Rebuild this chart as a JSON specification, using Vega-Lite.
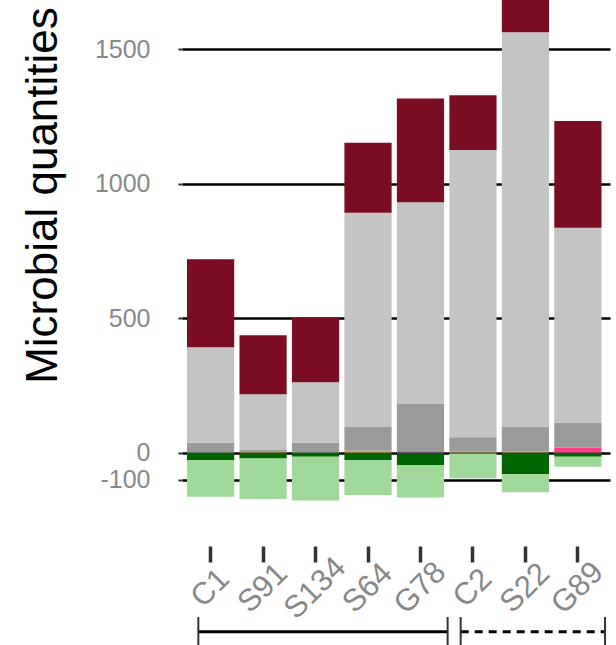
{
  "$schema": "https://vega.github.io/schema/vega-lite/v6.json",
  "autosize": {"type": "none"},
  "width": 428,
  "height": 546,
  "padding": {"left": 182, "top": 0, "right": 6, "bottom": 99},
  "config": {"font": "Liberation Sans", "view": {"stroke": null}, "axis": {"labelFont": "Liberation Sans"}},
  "resolve": {"axis": {"x": "independent", "y": "independent"}},
  "layer": [
    {
      "data": {"values": [
        {"sample": "C1", "taxon": "e", "order": 2, "value": 37},
        {"sample": "C1", "taxon": "f", "order": 3, "value": 355},
        {"sample": "C1", "taxon": "g", "order": 4, "value": 327},
        {"sample": "C1", "taxon": "h", "order": 1, "value": -27},
        {"sample": "C1", "taxon": "i", "order": 2, "value": -137},
        {"sample": "S91", "taxon": "b", "order": 1, "value": 5},
        {"sample": "S91", "taxon": "e", "order": 2, "value": 5},
        {"sample": "S91", "taxon": "f", "order": 3, "value": 207},
        {"sample": "S91", "taxon": "g", "order": 4, "value": 220},
        {"sample": "S91", "taxon": "h", "order": 1, "value": -22},
        {"sample": "S91", "taxon": "i", "order": 2, "value": -150},
        {"sample": "S134", "taxon": "e", "order": 2, "value": 37},
        {"sample": "S134", "taxon": "f", "order": 3, "value": 225},
        {"sample": "S134", "taxon": "g", "order": 4, "value": 240},
        {"sample": "S134", "taxon": "h", "order": 1, "value": -15},
        {"sample": "S134", "taxon": "i", "order": 2, "value": -163},
        {"sample": "S64", "taxon": "a", "order": 1, "value": 7},
        {"sample": "S64", "taxon": "e", "order": 2, "value": 90},
        {"sample": "S64", "taxon": "f", "order": 3, "value": 795},
        {"sample": "S64", "taxon": "g", "order": 4, "value": 260},
        {"sample": "S64", "taxon": "h", "order": 1, "value": -27},
        {"sample": "S64", "taxon": "i", "order": 2, "value": -130},
        {"sample": "G78", "taxon": "c", "order": 1, "value": 5},
        {"sample": "G78", "taxon": "e", "order": 2, "value": 176},
        {"sample": "G78", "taxon": "f", "order": 3, "value": 750},
        {"sample": "G78", "taxon": "g", "order": 4, "value": 386},
        {"sample": "G78", "taxon": "h", "order": 1, "value": -46},
        {"sample": "G78", "taxon": "i", "order": 2, "value": -121},
        {"sample": "C2", "taxon": "b", "order": 1, "value": 4},
        {"sample": "C2", "taxon": "e", "order": 2, "value": 53},
        {"sample": "C2", "taxon": "f", "order": 3, "value": 1068},
        {"sample": "C2", "taxon": "g", "order": 4, "value": 204},
        {"sample": "C2", "taxon": "h", "order": 1, "value": -3},
        {"sample": "C2", "taxon": "i", "order": 2, "value": -92},
        {"sample": "S22", "taxon": "b", "order": 1, "value": 4},
        {"sample": "S22", "taxon": "e", "order": 2, "value": 93},
        {"sample": "S22", "taxon": "f", "order": 3, "value": 1466},
        {"sample": "S22", "taxon": "g", "order": 4, "value": 200},
        {"sample": "S22", "taxon": "h", "order": 1, "value": -80},
        {"sample": "S22", "taxon": "i", "order": 2, "value": -67},
        {"sample": "G89", "taxon": "d", "order": 1, "value": 19},
        {"sample": "G89", "taxon": "e", "order": 2, "value": 93},
        {"sample": "G89", "taxon": "f", "order": 3, "value": 724},
        {"sample": "G89", "taxon": "g", "order": 4, "value": 397},
        {"sample": "G89", "taxon": "h", "order": 1, "value": -15},
        {"sample": "G89", "taxon": "i", "order": 2, "value": -37}
      ]},
      "mark": {"type": "bar", "clip": true},
      "encoding": {
        "x": {
          "field": "sample", "type": "nominal",
          "scale": {"domain": ["C1", "S91", "S134", "S64", "G78", "C2", "S22", "G89"], "paddingInner": 0.1, "paddingOuter": 0.1286, "align": 0.37},
          "axis": {"title": null, "domain": false, "grid": false, "tickColor": "#333", "tickWidth": 3.5, "tickSize": 16, "labelAngle": -45, "labelAlign": "center", "labelBaseline": "middle", "labelFontSize": 31, "labelColor": "#888", "labelPadding": 26, "labelDx": 11, "labelDy": 5, "labelLimit": 300}
        },
        "y": {
          "field": "value", "type": "quantitative", "stack": "zero",
          "scale": {"domain": [-347, 1683], "nice": false, "zero": false},
          "axis": {"values": [-100, 0, 500, 1000, 1500], "labelExpr": "'' + datum.value", "title": "Microbial quantities", "grid": true, "gridColor": "black", "gridWidth": 2.5, "gridOpacity": 1, "domain": false, "tickColor": "#333", "tickSize": 4, "tickWidth": 2, "labelFontSize": 25, "labelColor": "#888", "labelPadding": 28, "labelOverlap": false, "titleFontSize": 44, "titleFontWeight": "normal", "titleColor": "black", "titleX": -126, "titleY": 195, "titleAlign": "center", "titleBaseline": "alphabetic", "titleAngle": -90}
        },
        "color": {
          "field": "taxon", "type": "nominal", "legend": null,
          "scale": {"domain": ["a", "b", "c", "d", "e", "f", "g", "h", "i"], "range": ["#e3a03a", "#b8865a", "#b04ab0", "#ff3d8b", "#9a9a9a", "#c4c4c4", "#7b0d23", "#006400", "#a1d99b"]}
        },
        "order": {"field": "order", "type": "quantitative"}
      }
    },
    {
      "data": {"values": [
        {"group": "Group 1", "from": "C1", "to": "G78"},
        {"group": "Group 2", "from": "C2", "to": "G89"}
      ]},
      "mark": {"type": "rule", "strokeWidth": 3, "color": "black"},
      "encoding": {
        "x": {"field": "from", "type": "nominal", "bandPosition": 0.24, "scale": {"domain": ["C1", "S91", "S134", "S64", "G78", "C2", "S22", "G89"]}, "axis": null},
        "x2": {"field": "to", "bandPosition": 1.075},
        "y": {"datum": -666, "type": "quantitative", "scale": {"domain": [-347, 1683], "nice": false, "zero": false}, "axis": null},
        "strokeDash": {"field": "group", "type": "nominal", "legend": null, "scale": {"domain": ["Group 1", "Group 2"], "range": [[1, 0], [8, 6]]}}
      }
    },
    {
      "data": {"values": [
        {"group": "Group 1", "from": "C1", "to": "G78"},
        {"group": "Group 2", "from": "C2", "to": "G89"}
      ]},
      "mark": {"type": "rule", "strokeWidth": 2, "color": "#333"},
      "encoding": {
        "x": {"field": "from", "type": "nominal", "bandPosition": 0.24, "scale": {"domain": ["C1", "S91", "S134", "S64", "G78", "C2", "S22", "G89"]}, "axis": null},
        "y": {"datum": -611, "type": "quantitative", "scale": {"domain": [-347, 1683], "nice": false, "zero": false}, "axis": null},
        "y2": {"datum": -715}
      }
    },
    {
      "data": {"values": [
        {"group": "Group 1", "from": "C1", "to": "G78"},
        {"group": "Group 2", "from": "C2", "to": "G89"}
      ]},
      "mark": {"type": "rule", "strokeWidth": 2, "color": "#333"},
      "encoding": {
        "x": {"field": "to", "type": "nominal", "bandPosition": 1.075, "scale": {"domain": ["C1", "S91", "S134", "S64", "G78", "C2", "S22", "G89"]}, "axis": null},
        "y": {"datum": -611, "type": "quantitative", "scale": {"domain": [-347, 1683], "nice": false, "zero": false}, "axis": null},
        "y2": {"datum": -715}
      }
    }
  ]
}
